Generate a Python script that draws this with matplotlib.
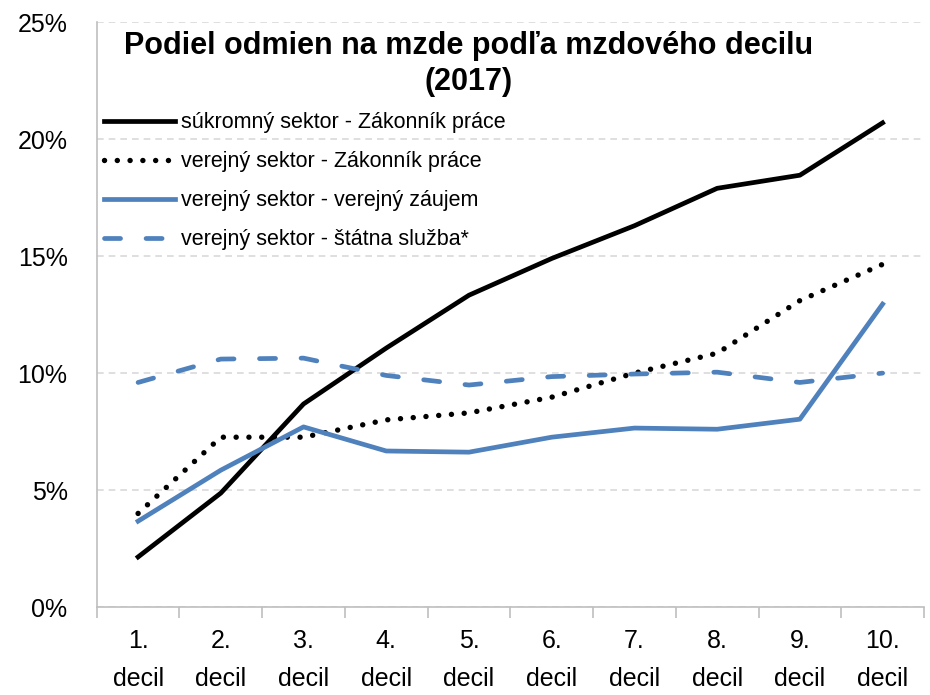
import numpy as np
import matplotlib.pyplot as plt

# hodnoty odčítané z grafu (v %)
decily = ["1.\ndecil", "2.\ndecil", "3.\ndecil", "4.\ndecil", "5.\ndecil",
          "6.\ndecil", "7.\ndecil", "8.\ndecil", "9.\ndecil", "10.\ndecil"]
sukromny_zp = [2.14, 4.87, 8.68, 11.07, 13.33, 14.9, 16.3, 17.9, 18.46, 20.7]
verejny_zp = [4.0, 7.26, 7.26, 8.0, 8.3, 8.97, 10.0, 10.85, 13.1, 14.65]
verejny_vz = [3.67, 5.85, 7.7, 6.67, 6.62, 7.26, 7.65, 7.6, 8.03, 12.95]
verejny_ss = [9.6, 10.6, 10.64, 9.9, 9.49, 9.85, 9.96, 10.04, 9.6, 10.0]

nazvy = ["súkromný sektor - Zákonník práce",
         "verejný sektor - Zákonník práce",
         "verejný sektor - verejný záujem",
         "verejný sektor - štátna služba*"]

modra = "#4F81BD"
plt.rcParams["font.family"] = ["Liberation Sans", "DejaVu Sans"]

fig = plt.figure(figsize=(9.3, 6.95), dpi=100)
ax = fig.add_axes([0.104, 0.1266, 0.8895, 0.8414])

x = np.arange(len(decily))
ax.plot(x, sukromny_zp, color="black", lw=3.4, label=nazvy[0])
ax.plot(x, verejny_zp, color="black", lw=3.9, ls=(0, (0.01, 2.35)),
        dash_capstyle="round", label=nazvy[1])
ax.plot(x, verejny_vz, color=modra, lw=3.4, label=nazvy[2])
ax.plot(x, verejny_ss, color=modra, lw=3.4, ls=(0, (3.4, 5.4)),
        dash_capstyle="round", label=nazvy[3])

ax.set_xlim(-0.5, 9.5)
ax.set_ylim(0, 25)
ax.set_yticks(np.arange(0, 26, 5))
ax.set_yticklabels([f"{v}%" for v in range(0, 26, 5)], fontsize=18)
ax.yaxis.grid(True, color="#D9D9D9", ls=(0, (4, 3)), lw=1.2)
ax.set_axisbelow(True)

ax.set_xticks(x)
ax.set_xticklabels(decily, fontsize=18, linespacing=1.75)
ax.set_xticks(np.arange(-0.5, 10, 1), minor=True)
ax.tick_params(axis="x", which="major", length=0, pad=16)
ax.tick_params(axis="x", which="minor", length=8, color="#BFBFBF", width=1.2)
ax.tick_params(axis="y", length=0, pad=21)

for s in ["top", "right"]:
    ax.spines[s].set_visible(False)
for s in ["left", "bottom"]:
    ax.spines[s].set_color("#BFBFBF")
    ax.spines[s].set_linewidth(1.2)

ax.text(0.449, 0.985, "Podiel odmien na mzde podľa mzdového decilu\n(2017)",
        transform=ax.transAxes, ha="center", va="top", fontsize=22,
        fontweight="bold", linespacing=1.27)

ax.legend(loc="upper left", bbox_to_anchor=(-0.002, 0.861), frameon=False,
          fontsize=15.5, handlelength=3.3, handletextpad=0.3, labelspacing=0.84,
          borderaxespad=0)

fig.savefig("out.png", dpi=100)
